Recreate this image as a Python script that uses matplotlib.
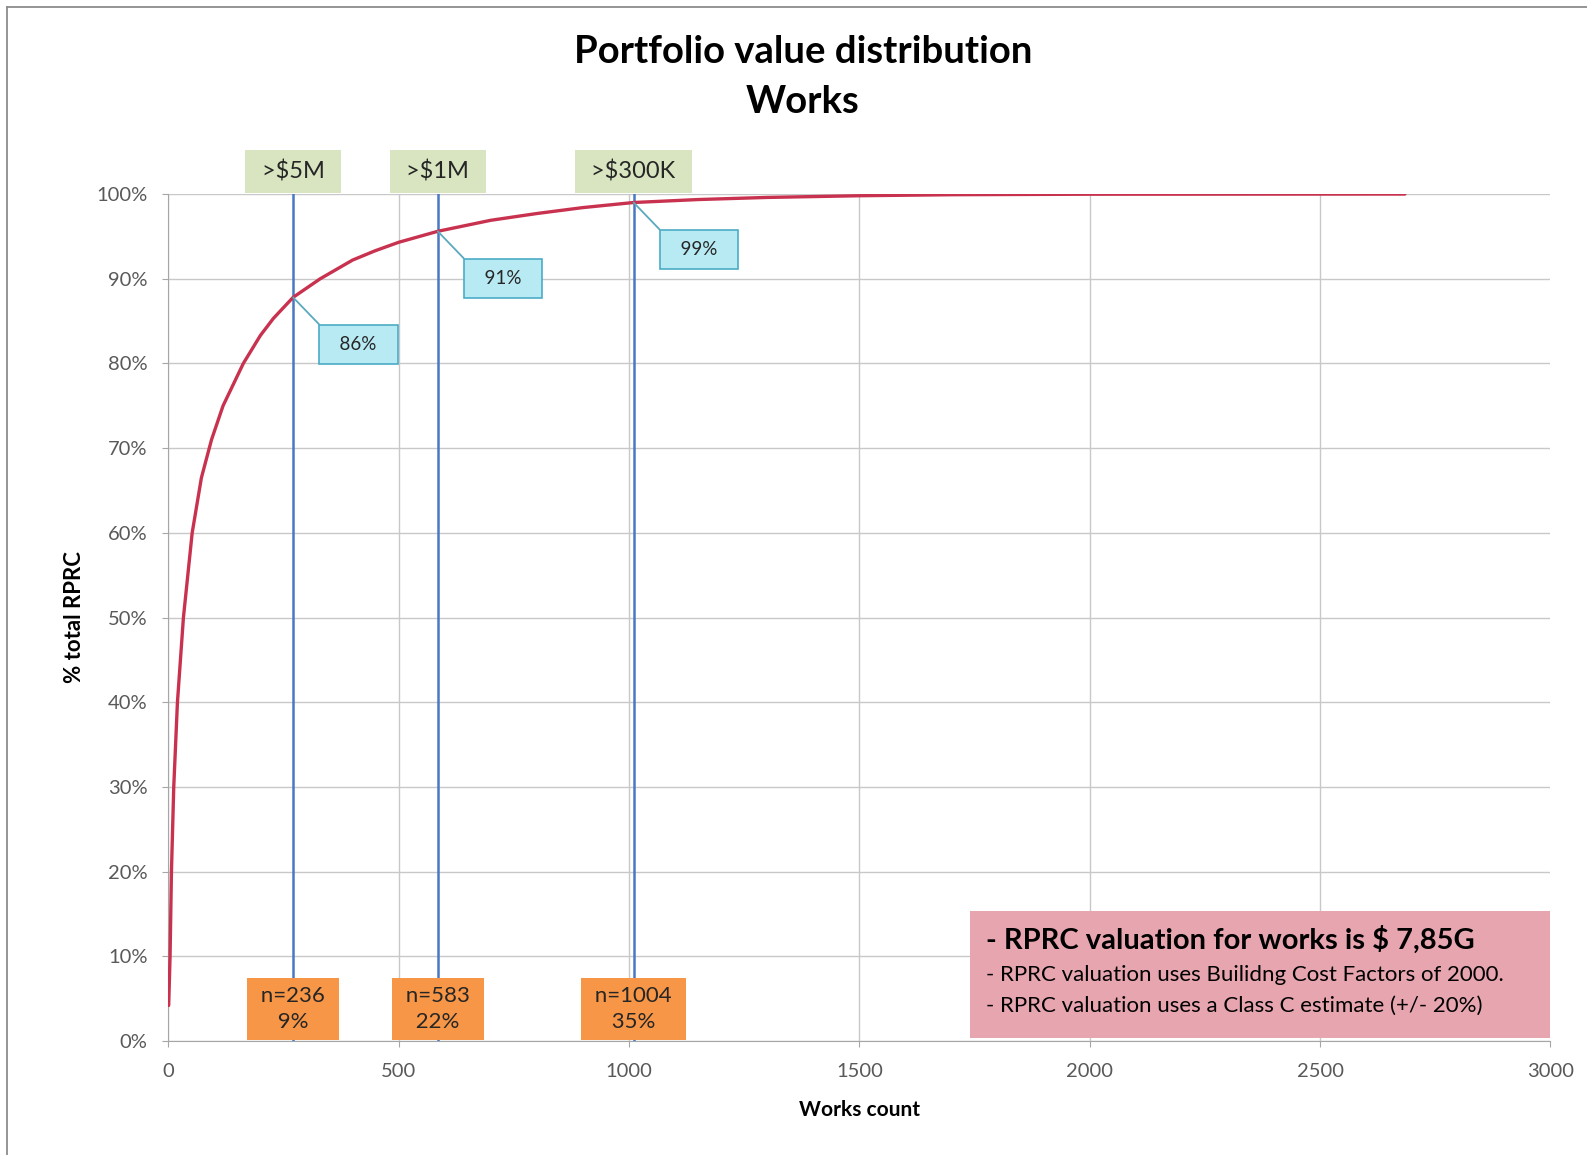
import matplotlib
matplotlib.use('Agg')
import matplotlib.pyplot as plt
from matplotlib.patches import Rectangle
from matplotlib.lines import Line2D

plt.rcParams['font.family'] = ['Lato', 'DejaVu Sans']

# cumulative share of total RPRC vs number of works
works = [1, 4, 7, 12, 20, 33, 52, 72, 94, 119, 163, 200, 228, 271, 330, 400, 449, 500, 585,
         700, 800, 900, 1010, 1150, 1300, 1500, 1700, 2000, 2684]
pct = [4.2, 10, 20, 30, 40, 50, 60, 66.5, 71, 75, 80, 83.3, 85.3, 87.8, 90, 92.2, 93.3, 94.3, 95.6,
       96.9, 97.7, 98.4, 99.0, 99.35, 99.6, 99.8, 99.92, 99.98, 100]

# thresholds
cut_x = [271, 585, 1010]
cut_labels = ['>$5M', '>$1M', '>$300K']
cut_pct_labels = ['86%', '91%', '99%']
n_labels = ['n=236\n9%', 'n=583\n22%', 'n=1004\n35%']

headline = '- RPRC valuation for works is $ 7,85G'
notes = ['- RPRC valuation uses Builidng Cost Factors of 2000.',
         '- RPRC valuation uses a Class C estimate (+/- 20%)']

fig = plt.figure(figsize=(15.87, 11.55), dpi=100)
ax = fig.add_axes([0.106, 0.0987, 0.871, 0.7333])

# outer frame (left and top edges visible)
fig.add_artist(Line2D([0.0045, 0.0045], [0.0, 0.994], transform=fig.transFigure,
                      color='#8c8c8c', linewidth=1.3))
fig.add_artist(Line2D([0.0045, 1.0], [0.994, 0.994], transform=fig.transFigure,
                      color='#8c8c8c', linewidth=1.3))

fig.text(0.506, 0.955, 'Portfolio value distribution', ha='center', va='center',
         fontsize=27.5, fontweight='bold', color='black')
fig.text(0.506, 0.912, 'Works', ha='center', va='center',
         fontsize=27.5, fontweight='bold', color='black')

ax.set_xlim(0, 3000)
ax.set_ylim(0, 100)
ax.set_xticks(range(0, 3001, 500))
ax.set_yticks(range(0, 101, 10))
ax.set_yticklabels([f'{v}%' for v in range(0, 101, 10)])
ax.grid(True, color='#c8c8c8', linewidth=1)
ax.get_xgridlines()[-1].set_visible(False)
ax.set_axisbelow(True)
for s in ['top', 'right']:
    ax.spines[s].set_visible(False)
for s in ['left', 'bottom']:
    ax.spines[s].set_color('#a6a6a6')
ax.tick_params(colors='#a6a6a6', labelcolor='#595959', labelsize=14.5, length=4)
ax.tick_params(axis='y', pad=11)
ax.tick_params(axis='x', pad=12)
ax.set_xlabel('Works count', fontsize=15, fontweight='bold', labelpad=14)
ax.set_ylabel('% total RPRC', fontsize=16, fontweight='bold', labelpad=8)

ax.plot(works, pct, color='#c8324f', linewidth=2.4, zorder=4, solid_capstyle='round')

for x, top, pl, nl in zip(cut_x, cut_labels, cut_pct_labels, n_labels):
    ax.axvline(x, color='#4a78c2', linewidth=1.8, zorder=3)
    ax.text(x, 101.4, ' ' + top + ' ', ha='center', va='bottom', fontsize=17, color='#262626',
            clip_on=False,
            bbox=dict(boxstyle='square,pad=0.45', facecolor='#d9e5c0', edgecolor='none'))
    padded = '\n'.join(' ' + s + ' ' for s in nl.split('\n'))
    ax.text(x, 3.8, padded, ha='center', va='center', fontsize=16, color='#262626',
            linespacing=1.35, zorder=6,
            bbox=dict(boxstyle='square,pad=0.38', facecolor='#f79646', edgecolor='none'))
    y_at = [p for w, p in zip(works, pct) if w >= x][0]
    ax.annotate('  ' + pl + '  ', xy=(x, y_at), xytext=(47, -34), textcoords='offset points',
                ha='center', va='center', fontsize=13.5, color='#262626', zorder=7,
                bbox=dict(boxstyle='square,pad=0.6', facecolor='#b8eaf4', edgecolor='#4bacc6',
                          linewidth=1.2),
                arrowprops=dict(arrowstyle='-', color='#5aa9bd', linewidth=1.3,
                                relpos=(0, 1), shrinkA=0, shrinkB=0))

ax.add_patch(Rectangle((1740, 0.3), 1260, 15.0, facecolor='#e6a5af', edgecolor='none',
                       zorder=5, clip_on=False))
ax.text(1775, 11.9, headline, fontsize=21, fontweight='bold', va='center', zorder=6)
ax.text(1775, 7.8, notes[0], fontsize=16, va='center', zorder=6)
ax.text(1775, 4.1, notes[1], fontsize=16, va='center', zorder=6)

fig.savefig('out.png', dpi=100, facecolor='white')
